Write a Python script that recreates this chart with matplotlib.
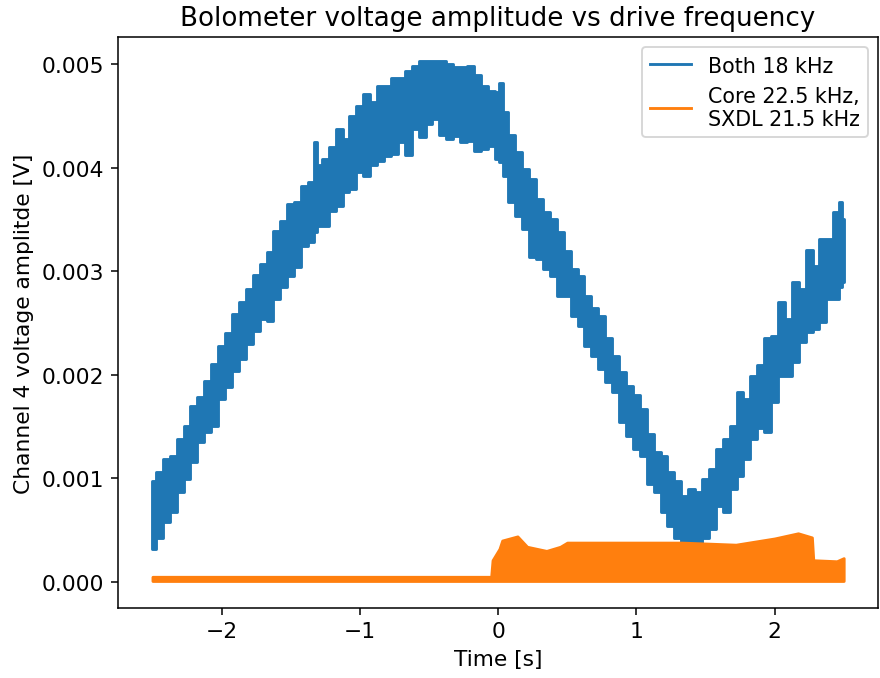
import matplotlib
matplotlib.use("Agg")
import matplotlib.pyplot as plt
from matplotlib.lines import Line2D

# Both coils at 18 kHz: upper / lower envelope of the noisy amplitude trace,
# read off the picture every ~0.05 s
both_t = [-2.5, -2.45, -2.4, -2.35, -2.3, -2.25, -2.2, -2.15, -2.1, -2.05,
          -2.0, -1.95, -1.9, -1.85, -1.8, -1.75, -1.7, -1.65, -1.6, -1.55,
          -1.5, -1.45, -1.4, -1.35, -1.32, -1.3, -1.25, -1.2, -1.15, -1.1,
          -1.05, -1.0, -0.95, -0.9, -0.85, -0.8, -0.75, -0.7, -0.65, -0.6,
          -0.55, -0.5, -0.45, -0.4, -0.35, -0.3, -0.25, -0.2, -0.15, -0.1,
          -0.05, 0.0, 0.014, 0.05, 0.1, 0.15, 0.2, 0.25, 0.3, 0.35,
          0.4, 0.45, 0.5, 0.55, 0.6, 0.65, 0.7, 0.75, 0.8, 0.85,
          0.9, 0.95, 1.0, 1.05, 1.1, 1.15, 1.2, 1.25, 1.3, 1.35,
          1.4, 1.45, 1.5, 1.55, 1.6, 1.65, 1.7, 1.75, 1.8, 1.85,
          1.9, 1.95, 2.0, 2.05, 2.1, 2.15, 2.2, 2.25, 2.3, 2.35,
          2.4, 2.45, 2.48, 2.5]
both_hi = [0.00097, 0.00106, 0.00119, 0.00122, 0.00138, 0.00151, 0.00170, 0.00179, 0.00194, 0.00210,
           0.00228, 0.00240, 0.00259, 0.00270, 0.00283, 0.00296, 0.00307, 0.00318, 0.00339, 0.00348,
           0.00365, 0.00367, 0.00382, 0.00386, 0.00425, 0.00402, 0.00408, 0.00420, 0.00437, 0.00428,
           0.00450, 0.00459, 0.00471, 0.00463, 0.00479, 0.00479, 0.00486, 0.00486, 0.00493, 0.00498,
           0.00503, 0.00503, 0.00503, 0.00503, 0.00500, 0.00497, 0.00497, 0.00498, 0.00489, 0.00479,
           0.00474, 0.00473, 0.00482, 0.00454, 0.00431, 0.00415, 0.00399, 0.00389, 0.00370, 0.00357,
           0.00350, 0.00338, 0.00319, 0.00302, 0.00295, 0.00276, 0.00264, 0.00257, 0.00235, 0.00218,
           0.00203, 0.00189, 0.00180, 0.00167, 0.00143, 0.00125, 0.00122, 0.00106, 0.00097, 0.00083,
           0.00090, 0.00087, 0.00099, 0.00109, 0.00128, 0.00138, 0.00151, 0.00183, 0.00177, 0.00199,
           0.00209, 0.00235, 0.00237, 0.00270, 0.00254, 0.00290, 0.00283, 0.00320, 0.00305, 0.00331,
           0.00331, 0.00357, 0.00367, 0.00350]
both_lo = [0.00032, 0.00042, 0.00058, 0.00068, 0.00087, 0.00099, 0.00116, 0.00135, 0.00145, 0.00151,
           0.00177, 0.00188, 0.00204, 0.00215, 0.00230, 0.00242, 0.00254, 0.00252, 0.00273, 0.00285,
           0.00295, 0.00304, 0.00324, 0.00328, 0.00338, 0.00344, 0.00344, 0.00358, 0.00363, 0.00376,
           0.00379, 0.00396, 0.00392, 0.00402, 0.00406, 0.00411, 0.00413, 0.00425, 0.00412, 0.00437,
           0.00429, 0.00442, 0.00447, 0.00431, 0.00428, 0.00430, 0.00425, 0.00426, 0.00416, 0.00418,
           0.00421, 0.00408, 0.00405, 0.00392, 0.00367, 0.00353, 0.00341, 0.00314, 0.00312, 0.00302,
           0.00295, 0.00276, 0.00276, 0.00257, 0.00247, 0.00228, 0.00218, 0.00206, 0.00193, 0.00183,
           0.00154, 0.00141, 0.00128, 0.00122, 0.00095, 0.00087, 0.00068, 0.00054, 0.00042, 0.00035,
           0.00037, 0.00037, 0.00042, 0.00051, 0.00073, 0.00068, 0.00090, 0.00102, 0.00119, 0.00138,
           0.00149, 0.00145, 0.00174, 0.00199, 0.00199, 0.00212, 0.00232, 0.00241, 0.00244, 0.00251,
           0.00273, 0.00273, 0.00285, 0.00290]

# Core 22.5 kHz / SXDL 21.5 kHz
split_t = [-2.5, -0.05, -0.04, 0.01, 0.03, 0.14, 0.21, 0.35, 0.45, 0.5, 1.33,
           1.72, 2.0, 2.17, 2.27, 2.28, 2.45, 2.5]
split_hi = [0.00005, 0.00005, 0.00021, 0.00032, 0.00040, 0.00044, 0.00034,
            0.00030, 0.00034, 0.00038, 0.00038, 0.00036, 0.00042, 0.00047,
            0.00043, 0.00021, 0.00020, 0.00023]
split_lo = [0.00001] * len(split_t)

labels = ["Both 18 kHz", "Core 22.5 kHz,\nSXDL 21.5 kHz"]
colors = ["#1f77b4", "#ff7f0e"]

plt.rcParams["font.size"] = 11.4

fig = plt.figure(figsize=(6.4, 4.938), dpi=137.5)
ax = fig.add_axes([0.134, 0.1031, 0.864, 0.841])

# noisy trace drawn as its envelope, stepped to keep the vertical jitter look
ax.fill_between(both_t, both_lo, both_hi, step="mid", color=colors[0], lw=1.5)
ax.fill_between(split_t, split_lo, split_hi, color=colors[1], lw=1.5)

ax.set_xlim(-2.75, 2.75)
ax.set_ylim(-0.000251, 0.00526)
ax.set_title("Bolometer voltage amplitude vs drive frequency", fontsize=13.7)
ax.set_xlabel("Time [s]")
ax.set_ylabel("Channel 4 voltage amplitde [V]")

handles = [Line2D([], [], color=c, lw=1.5) for c in colors]
ax.legend(handles, labels, loc="upper right", fontsize=10.8)

fig.savefig("out.png", dpi=137.5)
